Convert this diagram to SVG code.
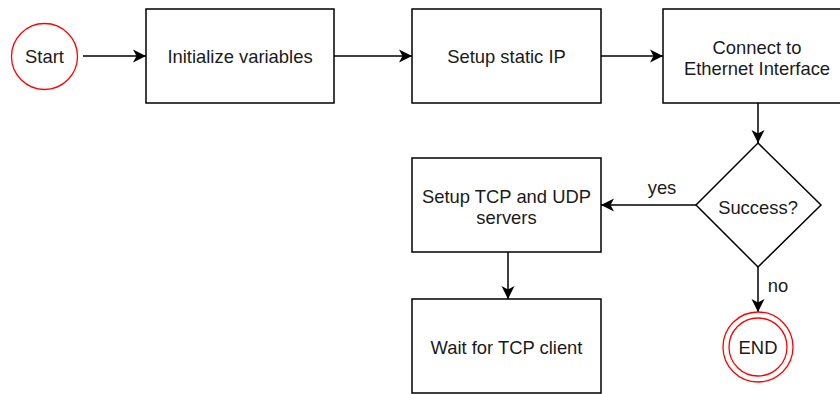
<svg xmlns="http://www.w3.org/2000/svg" width="840" height="394" viewBox="0 0 840 394">
<style>
.box{fill:#fff;stroke:#000;stroke-width:1.5}
.term{fill:#fff;stroke:#ff0000;stroke-width:1.3}
.t{font-family:"Liberation Sans",Arial,sans-serif;font-size:18.4px;fill:#1a1a1a;text-anchor:middle}
.c{fill:none;stroke:#000;stroke-width:1.5}
</style>
<defs>
<marker id="ah" markerWidth="14" markerHeight="14" refX="13" refY="7" orient="auto" markerUnits="userSpaceOnUse">
<path d="M0,0.5 L13,7 L0,13.5 L3.5,7 Z" fill="#000"/>
</marker>
</defs>
<rect width="840" height="394" fill="#fff"/>
<g id="connectors">
<line class="c" x1="83" y1="56" x2="146" y2="56" marker-end="url(#ah)"/>
<line class="c" x1="334" y1="56" x2="412" y2="56" marker-end="url(#ah)"/>
<line class="c" x1="601" y1="56" x2="663" y2="56" marker-end="url(#ah)"/>
<line class="c" x1="758" y1="103" x2="758" y2="143" marker-end="url(#ah)"/>
<line class="c" x1="696" y1="205" x2="601" y2="205" marker-end="url(#ah)"/>
<text class="t" x="662" y="194">yes</text>
<line class="c" x1="508" y1="252" x2="508" y2="299" marker-end="url(#ah)"/>
<line class="c" x1="758" y1="267" x2="758" y2="312" marker-end="url(#ah)"/>
<text class="t" x="778" y="292">no</text>
</g>
<g id="start">
<circle class="term" cx="44.5" cy="56.5" r="33"/>
<text class="t" x="44.5" y="63">Start</text>
</g>
<g id="init">
<rect class="box" x="146" y="9" width="188" height="94"/>
<text class="t" x="240" y="63">Initialize variables</text>
</g>
<g id="staticip">
<rect class="box" x="412" y="9" width="189" height="94"/>
<text class="t" x="506.5" y="63">Setup static IP</text>
</g>
<g id="connect">
<rect class="box" x="663" y="9" width="188" height="94"/>
<text class="t" x="757" y="53.5">Connect to</text>
<text class="t" x="757" y="75">Ethernet Interface</text>
</g>
<g id="success">
<polygon class="box" points="758,143 821,205 758,267 696,205"/>
<text class="t" x="758" y="213.5">Success?</text>
</g>
<g id="servers">
<rect class="box" x="412" y="158" width="189" height="94"/>
<text class="t" x="506.5" y="202.5">Setup TCP and UDP</text>
<text class="t" x="506.5" y="224">servers</text>
</g>
<g id="wait">
<rect class="box" x="412" y="299" width="189" height="94"/>
<text class="t" x="506.5" y="353.5">Wait for TCP client</text>
</g>
<g id="end">
<circle class="term" cx="758" cy="347" r="35"/>
<circle class="term" cx="758" cy="347" r="29"/>
<text class="t" x="758" y="354">END</text>
</g>
</svg>
